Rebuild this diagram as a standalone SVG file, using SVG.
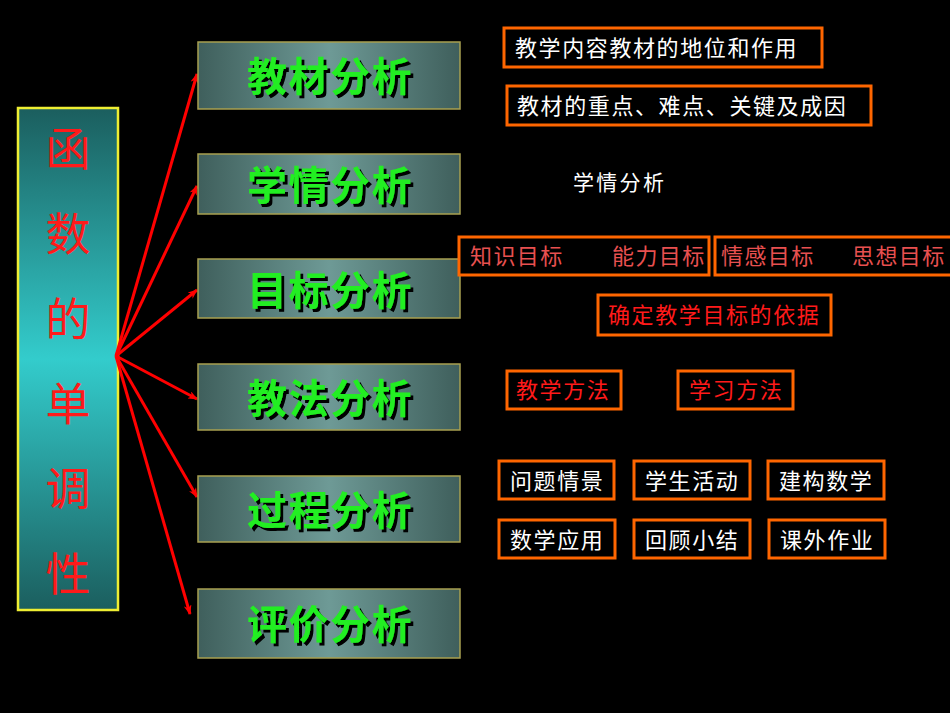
<svg xmlns="http://www.w3.org/2000/svg" width="950" height="713" viewBox="0 0 950 713">
<defs>
<linearGradient id="lg" x1="0" y1="0" x2="0" y2="1">
<stop offset="0" stop-color="#1b5e5e"/>
<stop offset="0.5" stop-color="#33cccc"/>
<stop offset="1" stop-color="#1b5e5e"/>
</linearGradient>
<linearGradient id="bg" x1="0" y1="0" x2="1" y2="0">
<stop offset="0" stop-color="#3f5f5c"/>
<stop offset="0.5" stop-color="#6e9a96"/>
<stop offset="1" stop-color="#3f5f5c"/>
</linearGradient>
<filter id="ds" x="-10%" y="-10%" width="130%" height="140%">
<feDropShadow dx="3" dy="3" stdDeviation="0" flood-color="#000" flood-opacity="1"/>
</filter>
<marker id="ah" markerWidth="10" markerHeight="8" refX="9" refY="4" orient="auto" markerUnits="userSpaceOnUse">
<path d="M0,0 L10,4 L0,8 L3,4 Z" fill="#ff0000"/>
</marker>
</defs>
<style>
.cjk{font-family:"Liberation Sans","Noto Sans CJK SC",sans-serif}
.gb{fill:url(#bg);stroke:#a8a050;stroke-width:1.5}
.gt{font-size:40px;font-weight:bold;fill:#22ee22;text-anchor:middle;letter-spacing:1.5px;filter:url(#ds)}
.ob{fill:#000;stroke:#ff6600;stroke-width:3}
.wt{font-size:22px;fill:#ffffff;letter-spacing:1.6px}
.pt{font-size:22px;fill:#e85050;letter-spacing:1.4px}
.rt{font-size:22px;fill:#ff1a1a;letter-spacing:1.6px}
.ar{stroke:#ff0000;stroke-width:3;fill:none;marker-end:url(#ah)}
</style>
<rect width="950" height="713" fill="#000"/>
<g id="main">
<rect x="18" y="108" width="100" height="502" fill="url(#lg)" stroke="#eeee33" stroke-width="2.5"/>
<g class="cjk" font-size="45" fill="#ff1a1a" text-anchor="middle">
<text x="68" y="166">函</text>
<text x="68" y="251">数</text>
<text x="68" y="336">的</text>
<text x="68" y="421">单</text>
<text x="68" y="506">调</text>
<text x="68" y="591">性</text>
</g>
</g>
<g id="connectors">
<line class="ar" x1="116" y1="356" x2="197" y2="74"/>
<line class="ar" x1="116" y1="356" x2="197" y2="186"/>
<line class="ar" x1="116" y1="356" x2="197" y2="290"/>
<line class="ar" x1="116" y1="356" x2="197" y2="399"/>
<line class="ar" x1="116" y1="356" x2="197" y2="497"/>
<line class="ar" x1="116" y1="356" x2="190" y2="614"/>
</g>
<g id="n1" class="cjk"><rect class="gb" x="198" y="42" width="262" height="67"/><text class="gt" x="330" y="91">教材分析</text></g>
<g id="n2" class="cjk"><rect class="gb" x="198" y="154" width="262" height="60"/><text class="gt" x="330" y="200">学情分析</text></g>
<g id="n3" class="cjk"><rect class="gb" x="198" y="259" width="262" height="59"/><text class="gt" x="330" y="305">目标分析</text></g>
<g id="n4" class="cjk"><rect class="gb" x="198" y="364" width="262" height="66"/><text class="gt" x="330" y="413">教法分析</text></g>
<g id="n5" class="cjk"><rect class="gb" x="198" y="476" width="262" height="66"/><text class="gt" x="330" y="525">过程分析</text></g>
<g id="n6" class="cjk"><rect class="gb" x="198" y="589" width="262" height="69"/><text class="gt" x="330" y="639">评价分析</text></g>
<g id="t1" class="cjk"><rect class="ob" x="504" y="28" width="318" height="39"/><text class="wt" x="515" y="56">教学内容教材的地位和作用</text></g>
<g id="t2" class="cjk"><rect class="ob" x="507" y="86" width="364" height="39"/><text class="wt" x="517" y="114">教材的重点、难点、关键及成因</text></g>
<g id="t3" class="cjk"><text class="wt" x="573" y="190" style="font-size:21px;letter-spacing:2.3px">学情分析</text></g>
<g id="t4" class="cjk"><rect class="ob" x="459" y="237" width="250" height="38"/><text class="pt" x="470" y="264">知识目标</text><text class="pt" x="612" y="264">能力目标</text></g>
<g id="t5" class="cjk"><rect class="ob" x="715" y="237" width="238" height="38"/><text class="pt" x="721" y="264">情感目标</text><text class="pt" x="852" y="264">思想目标</text></g>
<g id="t6" class="cjk"><rect class="ob" x="598" y="295" width="233" height="40"/><text class="rt" x="608" y="323">确定教学目标的依据</text></g>
<g id="t7" class="cjk"><rect class="ob" x="507" y="371" width="114" height="38"/><text class="rt" x="516" y="398">教学方法</text></g>
<g id="t8" class="cjk"><rect class="ob" x="678" y="371" width="115" height="38"/><text class="rt" x="689" y="398">学习方法</text></g>
<g id="t9" class="cjk"><rect class="ob" x="499" y="461" width="115" height="38"/><text class="wt" x="510" y="489">问题情景</text></g>
<g id="t10" class="cjk"><rect class="ob" x="634" y="461" width="116" height="38"/><text class="wt" x="645" y="489">学生活动</text></g>
<g id="t11" class="cjk"><rect class="ob" x="768" y="461" width="116" height="38"/><text class="wt" x="779" y="489">建构数学</text></g>
<g id="t12" class="cjk"><rect class="ob" x="499" y="520" width="116" height="38"/><text class="wt" x="510" y="548">数学应用</text></g>
<g id="t13" class="cjk"><rect class="ob" x="634" y="520" width="116" height="38"/><text class="wt" x="645" y="548">回顾小结</text></g>
<g id="t14" class="cjk"><rect class="ob" x="769" y="520" width="116" height="38"/><text class="wt" x="780" y="548">课外作业</text></g>
</svg>
